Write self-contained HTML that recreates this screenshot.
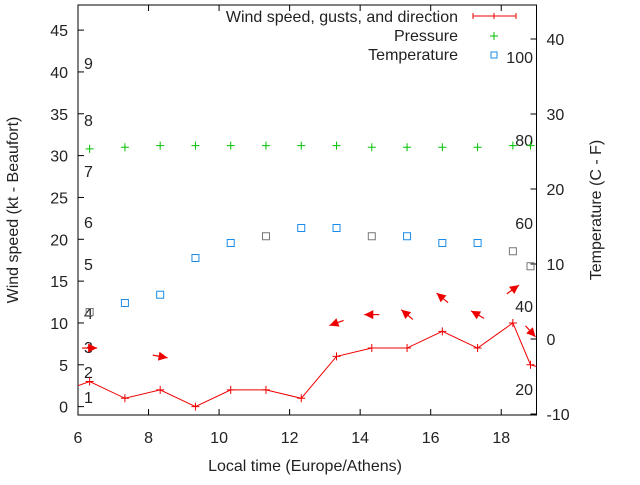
<!DOCTYPE html>
<html><head><meta charset="utf-8"><style>
body{margin:0;background:#fff}
svg text{font-family:"Liberation Sans",sans-serif;font-size:16px;fill:#222}
</style></head><body>
<svg id="chart" width="640" height="480"></svg>
<script>
const times=[6.33,7.33,8.33,9.33,10.33,11.33,12.33,13.33,14.33,15.33,16.33,17.33,18.33,18.83];
const windSpeed=[3,1,2,0,2,2,1,6,7,7,9,7,10,5];
const pressure=[30.8,31,31.2,31.2,31.2,31.2,31.2,31.2,31,31,31,31,31.2,31.2];
const temperature=[3.6,4.8,5.9,10.8,12.8,13.7,14.8,14.8,13.7,13.7,12.8,12.8,11.7,9.7];
const tempGray=[1,0,0,0,0,1,0,0,1,0,0,0,1,1];
const arrowTimes=[6.33,8.33,13.33,14.33,15.33,16.33,17.33,18.33,18.83];
const arrowKt=[7,6,10,11,11,13,11,14,9];
const arrowDeg=[180,190,-20,0,40,40,30,144,228];
const xTicks=[6,8,10,12,14,16,18];
const yTicks=[0,5,10,15,20,25,30,35,40,45];
const y2Ticks=[-10,0,10,20,30,40];
const beaufort=[[1,397],[2,372],[3,347],[4,313],[5,264],[6,222],[7,171],[8,120],[9,63]];
const fLabels=[100,80,60,40,20];

const L=78,R=536.5,T=5,B=415;
const X=t=>L+(t-6)*(R-L)/13;
const Y=v=>B-(v+1)*(B-T)/49;
const Y2=c=>339-7.5*c;
const svg=document.getElementById('chart');
const NS='http://www.w3.org/2000/svg';
function mk(tag,a,name,txt){const e=document.createElementNS(NS,tag);for(const k in a)e.setAttribute(k,a[k]);


if(txt!==undefined)e.textContent=txt;svg.appendChild(e);return e;}
mk('rect',{x:L,y:T,width:R-L,height:B-T,fill:'none',stroke:'#000','stroke-width':1},'plot-frame');
xTicks.forEach(t=>{const x=X(t);mk('line',{x1:x,y1:B,x2:x,y2:B-6,stroke:'#000'},'x-tick');mk('line',{x1:x,y1:T,x2:x,y2:T+6,stroke:'#000'},'x-tick-top');
mk('text',{x:x,y:B+28,'text-anchor':'middle'},'x-tick-label',t);});
yTicks.forEach(v=>{const y=Y(v);mk('line',{x1:L,y1:y,x2:L+6,y2:y,stroke:'#000'},'y-tick');
mk('text',{x:L-10,y:y+6,'text-anchor':'end'},'y-tick-label',v);});
y2Ticks.forEach(v=>{const y=Y2(v);mk('line',{x1:R,y1:y,x2:R-6,y2:y,stroke:'#000'},'y2-tick');
mk('text',{x:R+10,y:y+6,'text-anchor':'start'},'y2-tick-label',v);});
beaufort.forEach(b=>mk('text',{x:84,y:b[1]+6},'beaufort-label',b[0]));
fLabels.forEach((f,i)=>mk('text',{x:533,y:63+i*83,'text-anchor':'end'},'fahrenheit-label',f));
mk('text',{x:305,y:471,'text-anchor':'middle'},'x-axis-title','Local time (Europe/Athens)');
mk('text',{x:18,y:210,'text-anchor':'middle',transform:'rotate(-90 18 210)'},'y-axis-title','Wind speed (kt - Beaufort)');
mk('text',{x:601,y:210,'text-anchor':'middle',transform:'rotate(-90 601 210)'},'y2-axis-title','Temperature (C - F)');
pressure.forEach((p,i)=>{const x=X(times[i]),y=Y(p);mk('path',{d:`M${x-4} ${y}h8M${x} ${y-4}v8`,stroke:'#00c000','stroke-width':1},'pressure-point');});
temperature.forEach((c,i)=>{const x=X(times[i]),y=Y2(c);mk('rect',{x:x-3.5,y:y-3.5,width:7,height:7,fill:'none',stroke:tempGray[i]?'#777':'#1a8ce8','stroke-width':1},'temperature-point');});
let d=`M${L} ${Y(2.5)}`;times.forEach((t,i)=>d+=`L${X(t)} ${Y(windSpeed[i])}`);d+=`L${R} ${Y(4.8)}`;
mk('path',{d:d,fill:'none',stroke:'#e00','stroke-width':1},'wind-line');
windSpeed.forEach((v,i)=>{const x=X(times[i]),y=Y(v);mk('path',{d:`M${x-4} ${y}h8M${x} ${y-4}v8`,stroke:'#e00'},'wind-point');});
arrowTimes.forEach((t,i)=>{const cx=X(t),cy=Y(arrowKt[i]);const a=arrowDeg[i]*Math.PI/180;const dx=Math.cos(a)*7.5,dy=Math.sin(a)*7.5;
const x1=cx+dx,y1=cy+dy,x2=cx-dx,y2=cy-dy;const ux=(x2-x1)/15,uy=(y2-y1)/15;
mk('line',{x1:x1,y1:y1,x2:x2,y2:y2,stroke:'#e00','stroke-width':1.2},'wind-direction-arrow');
mk('polygon',{points:`${x2},${y2} ${x2-ux*9-uy*4.5},${y2-uy*9+ux*4.5} ${x2-ux*9+uy*4.5},${y2-uy*9-ux*4.5}`,fill:'#e00'},'wind-arrow-head');});
mk('text',{x:458,y:22,'text-anchor':'end'},'legend-wind-label','Wind speed, gusts, and direction');
mk('path',{d:'M473 16h43M473 13v6M494 13v6M516 13v6',stroke:'#e00'},'legend-wind-swatch');
mk('text',{x:458,y:41,'text-anchor':'end'},'legend-pressure-label','Pressure');
mk('path',{d:'M490 36h8M494 32v8',stroke:'#00c000'},'legend-pressure-swatch');
mk('text',{x:458,y:60,'text-anchor':'end'},'legend-temperature-label','Temperature');
mk('rect',{x:491,y:52,width:6,height:6,fill:'none',stroke:'#1a8ce8'},'legend-temperature-swatch');
</script></body></html>
